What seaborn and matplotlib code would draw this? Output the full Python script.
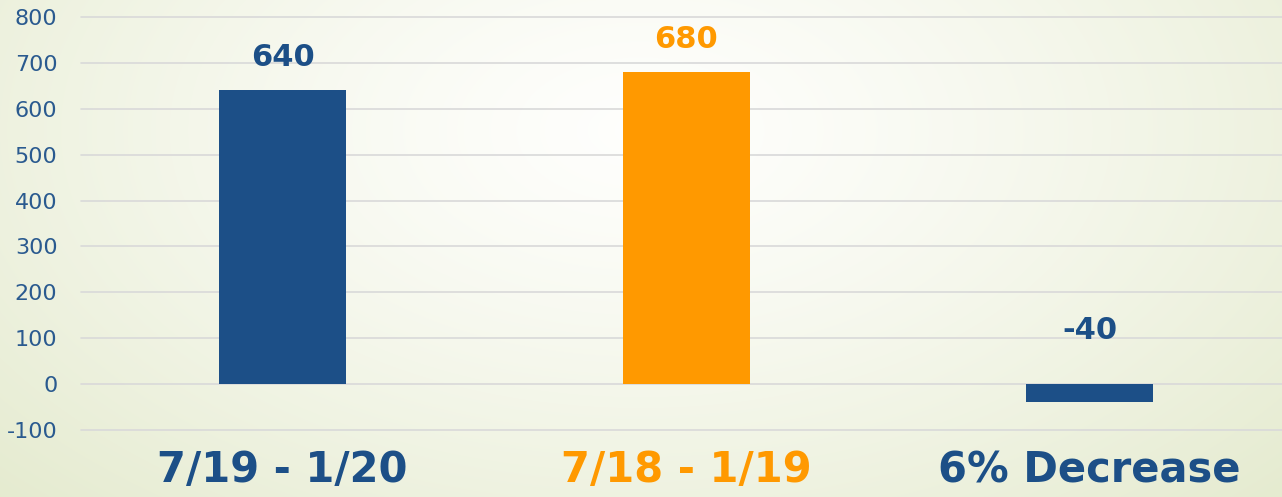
import numpy as np
import pandas as pd
import matplotlib
matplotlib.use("Agg")
import matplotlib.pyplot as plt
import seaborn as sns

# data
categories = ["7/19 - 1/20", "7/18 - 1/19", "6% Decrease"]
values = [640, 680, -40]
value_labels = ["640", "680", "-40"]
y_ticks = [-100, 0, 100, 200, 300, 400, 500, 600, 700, 800]

BLUE = "#1c4f87"
ORANGE = "#ff9900"
colors = [BLUE, ORANGE, BLUE]

sns.set_theme(style="white")
plt.rcParams["font.family"] = ["DejaVu Sans"]
plt.rcParams["axes.unicode_minus"] = False

df = pd.DataFrame({"period": categories, "count": values})

fig = plt.figure(figsize=(12.82, 4.97), dpi=100)

# radial background: white in the middle, pale green toward the edges
bg = fig.add_axes([0, 0, 1, 1], zorder=-1)
yy, xx = np.mgrid[0:497, 0:1282]
r = np.sqrt(((xx - 640) / 950.0) ** 2 + ((yy - 130) / 560.0) ** 2)
r = np.clip(r, 0, 1) ** 1.3
c0 = np.array([0.998, 0.998, 0.99])
c1 = np.array([0.89, 0.915, 0.80])
img = c0[None, None, :] * (1 - r[..., None]) + c1[None, None, :] * r[..., None]
bg.imshow(img, aspect="auto", extent=[0, 1, 0, 1])
bg.axis("off")

ax = fig.add_axes([81 / 1282, 1 - 430 / 497, 1 - 81 / 1282, (430 - 17) / 497])
ax.patch.set_alpha(0)

sns.barplot(data=df, x="period", y="count", hue="period", palette=colors,
            width=0.315, legend=False, saturation=1, linewidth=0, ax=ax)

ax.set_ylim(-100, 800)
ax.set_xlim(-0.5, 2.477)
ax.set_yticks(y_ticks)
ax.yaxis.grid(True, color="#d9d9d9", linewidth=1.2)
for gl in ax.get_ygridlines():
    gl.set_clip_on(False)
ax.set_axisbelow(True)
for s in ax.spines.values():
    s.set_visible(False)

ax.set_xlabel("")
ax.set_ylabel("")
ax.tick_params(axis="y", length=0, pad=17, labelsize=16, labelcolor="#2a5a8f")
ax.tick_params(axis="x", length=0, pad=14)
ax.set_xticks(range(len(categories)))
ax.set_xticklabels(categories, fontsize=30, fontweight="bold")
for lbl, c in zip(ax.get_xticklabels(), colors):
    lbl.set_color(c)

# value labels above the bars (negative one sits above the zero line)
for i, (v, t) in enumerate(zip(values, value_labels)):
    off = 13 if v >= 0 else 28
    ax.annotate(t, (i, max(v, 0)), xytext=(0, off), textcoords="offset points",
                ha="center", va="bottom", fontsize=22, fontweight="bold",
                color=colors[i])

fig.savefig("out.png", dpi=100)
